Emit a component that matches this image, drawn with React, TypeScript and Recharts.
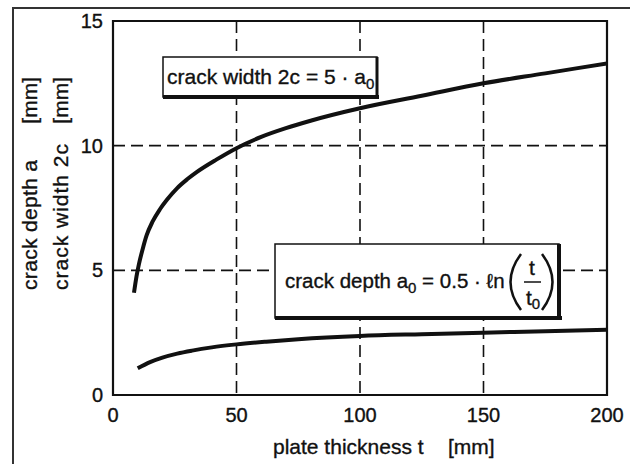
import React from 'react';
import { LineChart, Line, XAxis, YAxis, CartesianGrid, ReferenceArea, Customized } from 'recharts';

// plate thickness t [mm] vs crack width 2c [mm]
const widthT = [8.5, 9.5, 10.5, 12, 13.6, 16, 19, 22, 26, 30, 34, 42, 50, 60, 70, 80, 100, 125, 150, 175, 200];
const widthV = [4.1, 4.75, 5.25, 5.85, 6.4, 6.95, 7.45, 7.85, 8.3, 8.65, 8.95, 9.45, 9.9, 10.35, 10.7, 11.0, 11.5, 12.0, 12.5, 12.9, 13.3];

// plate thickness t [mm] vs crack depth a0 [mm]
const depthT = [10, 15, 20, 26, 32, 40, 50, 62, 75, 100, 125, 150, 175, 200];
const depthV = [1.07, 1.32, 1.5, 1.66, 1.78, 1.91, 2.03, 2.14, 2.24, 2.37, 2.44, 2.5, 2.56, 2.62];

const xTicks = [0, 50, 100, 150, 200];
const yTicks = [0, 5, 10, 15];

const widthData = widthT.map((t, i) => ({ t, v: widthV[i] }));
const depthData = depthT.map((t, i) => ({ t, v: depthV[i] }));

const FONT = '"Liberation Sans", Arial, sans-serif';
const INK = '#111';
const tickStyle = { fill: INK, fontSize: 20, fontFamily: FONT, stroke: INK, strokeWidth: 0.35 };

const Annotations = () => (
  <g fontFamily={FONT} fill={INK} stroke={INK} strokeWidth={0.35}>
    {/* outer frame (top + left only visible) */}
    <line x1={12} y1={8} x2={630} y2={8} stroke="#333" strokeWidth={2} />
    <line x1={13} y1={8} x2={13} y2={464} stroke="#333" strokeWidth={2} />

    {/* y axis titles */}
    <text transform="rotate(-90, 37, 290)" x={37} y={290} fontSize={21} textLength={130} lengthAdjust="spacing">crack depth a</text>
    <text transform="rotate(-90, 37, 77)" x={37} y={77} fontSize={21} textAnchor="end">[mm]</text>
    <text transform="rotate(-90, 68, 290)" x={68} y={290} fontSize={21} textLength={146} lengthAdjust="spacing">crack width 2c</text>
    <text transform="rotate(-90, 68, 77)" x={68} y={77} fontSize={21} textAnchor="end">[mm]</text>

    {/* x axis title */}
    <text x={273} y={454} fontSize={21}>plate thickness t</text>
    <text x={448} y={454} fontSize={21}>[mm]</text>

    {/* box 1 */}
    <rect x={163} y={57} width={214} height={40} fill="#fff" stroke={INK} strokeWidth={1.5} />
    <line x1={163} y1={97} x2={379} y2={97} stroke={INK} strokeWidth={4} />
    <line x1={377} y1={57} x2={377} y2={99} stroke={INK} strokeWidth={3} />
    <text x={167} y={84} fontSize={21}>
      crack width 2c = 5 · a<tspan fontSize={15} dy={5}>0</tspan>
    </text>

    {/* box 2 */}
    <rect x={275} y={244} width={284} height={74} fill="#fff" stroke={INK} strokeWidth={1.5} />
    <line x1={275} y1={318} x2={562} y2={318} stroke={INK} strokeWidth={4} />
    <line x1={559} y1={244} x2={559} y2={320} stroke={INK} strokeWidth={4} />
    <text x={285} y={288} fontSize={20.5}>
      crack depth a<tspan fontSize={15} dy={5}>0</tspan>
      <tspan dy={-5}> = 0.5 · ℓn</tspan>
    </text>
    <path d="M 521 254 Q 500 282 521 310" fill="none" stroke={INK} strokeWidth={2.5} />
    <path d="M 542 254 Q 563 282 542 310" fill="none" stroke={INK} strokeWidth={2.5} />
    <text x={532} y={275} fontSize={21} textAnchor="middle">t</text>
    <line x1={524} y1={282} x2={541} y2={282} stroke={INK} strokeWidth={1.5} />
    <text x={526} y={305} fontSize={21}>
      t<tspan fontSize={15} dy={4}>0</tspan>
    </text>
  </g>
);

export default function App() {
  return (
    <div style={{ position: 'fixed', left: 0, top: 0, width: 630, height: 464, background: '#fff' }}>
      <LineChart width={630} height={464} margin={{ top: 21, right: 23, left: 53, bottom: 39 }}>
        <CartesianGrid stroke={INK} strokeWidth={1.6} strokeDasharray="12 6" />
        <XAxis
          dataKey="t"
          type="number"
          domain={[0, 200]}
          ticks={xTicks}
          height={30}
          axisLine={false}
          tickLine={false}
          tickMargin={7}
          tick={tickStyle}
          allowDataOverflow
        />
        <YAxis
          type="number"
          domain={[0, 15]}
          ticks={yTicks}
          width={60}
          axisLine={false}
          tickLine={false}
          tickMargin={4}
          tick={tickStyle}
          allowDataOverflow
        />
        <ReferenceArea x1={0} x2={200} y1={0} y2={15} fill="none" stroke={INK} strokeWidth={2.2} />
        <Line data={widthData} dataKey="v" type="monotone" stroke={INK} strokeWidth={4} dot={false} isAnimationActive={false} />
        <Line data={depthData} dataKey="v" type="monotone" stroke={INK} strokeWidth={4} dot={false} isAnimationActive={false} />
        <Customized component={Annotations} />
      </LineChart>
    </div>
  );
}
